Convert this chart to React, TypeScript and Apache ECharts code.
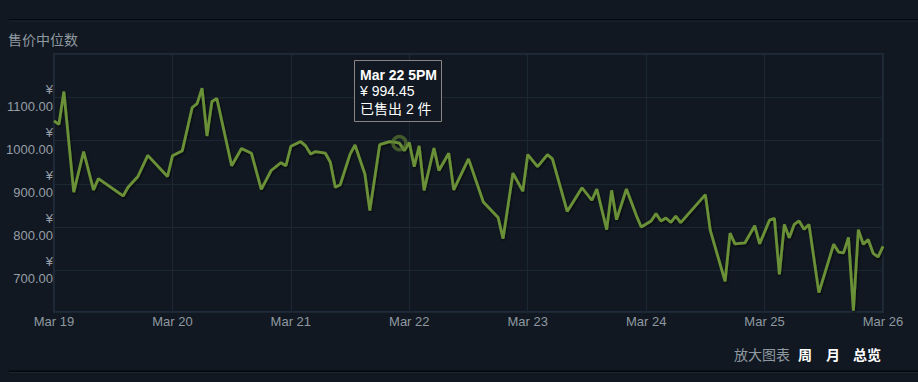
import React, { useEffect, useRef } from "react";
import * as echarts from "echarts";

// Hour offsets from Mar 19 00:00
const hours = [
  0, 1, 2, 4, 6, 8, 9, 14, 15, 17, 19, 23, 24, 26, 28, 29, 30, 31, 32, 33,
  36, 38, 40, 42, 44, 46, 47, 48, 50, 51, 52, 53, 55, 56, 57, 58, 60, 61, 63, 64,
  66, 68, 69, 70, 71, 72, 73, 74, 75, 77, 78, 80, 81, 84, 87, 90, 91, 93, 95, 96,
  98, 100, 101, 104, 107, 109, 110, 112, 113, 114, 116, 118, 119, 121, 122, 123, 124, 125, 126, 127,
  132, 133, 136, 137, 138, 140, 142, 143, 145, 146, 147, 148, 149, 150, 151, 152, 153, 155, 158, 159,
  160, 161, 162, 163, 164, 165, 166, 167, 168,
];
// Median sale price (CNY)
const prices = [
  1046, 1038, 1114, 881, 975, 886, 912, 872, 892, 917, 966, 917, 965, 977, 1077, 1086, 1122, 1011, 1091, 1098,
  942, 982, 971, 887, 931, 949, 942, 987, 998, 988, 969, 975, 971, 950, 892, 898, 969, 990, 923, 838,
  991, 998, 997, 994.45, 977, 996, 940, 988, 885, 983, 931, 971, 886, 958, 858, 822, 773, 925, 883, 968,
  940, 968, 958, 836, 891, 862, 888, 794, 885, 817, 888, 827, 800, 814, 831, 814, 821, 811, 825, 810,
  875, 792, 674, 786, 761, 763, 803, 761, 816, 820, 690, 806, 775, 806, 814, 795, 806, 648, 760, 742,
  740, 776, 606, 794, 760, 771, 739, 731, 755,
];
const xTickLabels = ["Mar 19", "Mar 20", "Mar 21", "Mar 22", "Mar 23", "Mar 24", "Mar 25", "Mar 26"];
const yTickValues = [700, 800, 900, 1000, 1100];

const highlightHour = 70;
const tooltipTitle = "Mar 22 5PM";
const tooltipSold = 2;
const titleText = "售价中位数";
const zoomLabel = "放大图表";
const zoomOptions = ["周", "月", "总览"];

const BG = "#111821";
const FONT = 'Arial, "Liberation Sans", "Noto Sans CJK SC", sans-serif';
const GRAY = "#8f98a0";

export default function App() {
  const ref = useRef<HTMLDivElement>(null);

  useEffect(() => {
    document.body.style.margin = "0";
    document.body.style.background = BG;
    if (!ref.current) return;
    const chart = echarts.init(ref.current, undefined, { renderer: "svg" });
    const idx = hours.indexOf(highlightHour);
    const hp = prices[idx];

    const option: any = {
      animation: false,
      backgroundColor: BG,
      textStyle: { fontFamily: FONT },
      grid: {
        left: 54,
        right: 35,
        top: 54,
        bottom: 70,
        show: true,
        borderColor: "#1f2b3a",
        borderWidth: 2,
        backgroundColor: "transparent",
      },
      xAxis: {
        type: "value",
        min: 0,
        max: 168,
        interval: 24,
        axisLine: { show: false },
        axisTick: { show: false },
        splitLine: { show: true, lineStyle: { color: "#1c2734", width: 1 } },
        axisLabel: {
          color: GRAY,
          fontSize: 13,
          fontFamily: FONT,
          margin: 3,
          formatter: (v: number) => xTickLabels[Math.round(v / 24)] ?? "",
        },
      },
      yAxis: {
        type: "value",
        min: 603,
        max: 1201,
        splitNumber: 6,
        axisLine: { show: false },
        axisTick: { show: false },
        splitLine: {
          show: true,
          lineStyle: { color: "#1c2734", width: 1 },
        },
        axisLabel: {
          color: "#969ea6",
          fontSize: 13,
          fontFamily: FONT,
          margin: 1,
          align: "right",
          lineHeight: 17,
          formatter: (v: number) =>
            yTickValues.indexOf(Math.round(v)) >= 0 && Math.abs(v - Math.round(v)) < 1e-6
              ? "¥\n" + v.toFixed(2)
              : "",
        },
      },
      series: [
        {
          type: "line",
          data: hours.map((h, i) => [h, prices[i]]),
          showSymbol: false,
          symbol: "none",
          lineStyle: {
            color: "#6b9137",
            width: 2.8,
            shadowColor: "rgba(0,0,0,0.6)",
            shadowBlur: 2,
            shadowOffsetX: 1,
            shadowOffsetY: 1.5,
          },
          z: 3,
        },
        {
          type: "scatter",
          data: [[hours[idx], hp]],
          symbol: "circle",
          symbolSize: 13,
          itemStyle: {
            color: "rgba(0,0,0,0)",
            borderColor: "rgba(90,122,50,0.85)",
            borderWidth: 3.5,
          },
          z: 4,
        },
      ],
      graphic: [
        { type: "rect", shape: { x: 9, y: 19, width: 909, height: 1.5 }, style: { fill: "#05080c" } },
        { type: "rect", shape: { x: 9, y: 20.5, width: 909, height: 1 }, style: { fill: "#1b2633" } },
        { type: "rect", shape: { x: 9, y: 370.5, width: 909, height: 1.5 }, style: { fill: "#05080c" } },
        { type: "rect", shape: { x: 9, y: 372, width: 909, height: 1 }, style: { fill: "#1b2633" } },
        {
          type: "text",
          x: 8,
          y: 40,
          style: { text: titleText, fill: GRAY, font: `14px ${FONT}`, verticalAlign: "middle" },
        },
        {
          type: "rect",
          z: 100,
          zlevel: 0,
          shape: { x: 354.5, y: 60.5, width: 87, height: 61 },
          style: { fill: "#111821", stroke: "#8a8582", lineWidth: 1 },
        },
        {
          type: "text",
          z: 101,
          x: 360,
          y: 74.5,
          style: { text: tooltipTitle, fill: "#ffffff", font: `bold 14px ${FONT}`, verticalAlign: "middle" },
        },
        {
          type: "text",
          z: 101,
          x: 360,
          y: 91,
          style: { text: "¥ " + hp.toFixed(2), fill: "#ffffff", font: `14px ${FONT}`, verticalAlign: "middle" },
        },
        {
          type: "text",
          z: 101,
          x: 360,
          y: 108.5,
          style: { text: `已售出 ${tooltipSold} 件`, fill: "#ffffff", font: `14px ${FONT}`, verticalAlign: "middle" },
        },
        {
          type: "text",
          x: 734,
          y: 355,
          style: { text: zoomLabel, fill: GRAY, font: `14px ${FONT}`, verticalAlign: "middle" },
        },
        {
          type: "text",
          x: 798,
          y: 355,
          style: { text: zoomOptions[0], fill: "#ffffff", font: `bold 14px ${FONT}`, verticalAlign: "middle" },
        },
        {
          type: "text",
          x: 826,
          y: 355,
          style: { text: zoomOptions[1], fill: "#ffffff", font: `bold 14px ${FONT}`, verticalAlign: "middle" },
        },
        {
          type: "text",
          x: 853,
          y: 355,
          style: { text: zoomOptions[2], fill: "#ffffff", font: `bold 14px ${FONT}`, verticalAlign: "middle" },
        },
      ],
    };
    chart.setOption(option);
    return () => chart.dispose();
  }, []);

  return (
    <div
      ref={ref}
      style={{ position: "fixed", left: 0, top: 0, width: 918, height: 382, background: BG }}
    />
  );
}
